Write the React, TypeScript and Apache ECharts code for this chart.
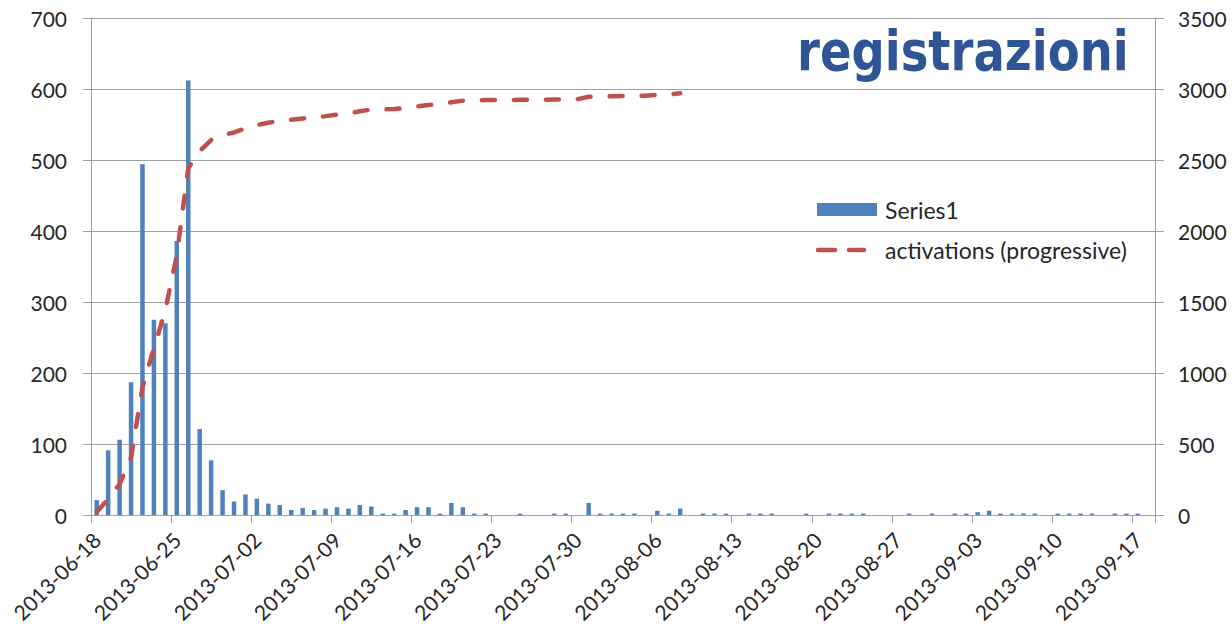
import React, { useEffect, useRef } from "react";
import * as echarts from "echarts";

// ---- data ----
const firstDay = "2013-06-18";
const dayCount = 93; // 2013-06-18 .. 2013-09-18

function buildDates(start: string, n: number): string[] {
  const out: string[] = [];
  const d0 = new Date(start + "T00:00:00Z");
  for (let i = 0; i < n; i++) {
    const d = new Date(d0.getTime() + i * 86400000);
    out.push(d.toISOString().slice(0, 10));
  }
  return out;
}
const dates = buildDates(firstDay, dayCount);

const series1 = [
  21, 91, 106, 187, 494, 275, 270, 386, 612, 121,
  77, 35, 19, 29, 23, 16, 14, 7, 10, 7,
  9, 11, 9, 14, 12, 2, 2, 7, 11, 11,
  2, 17, 11, 2, 2, 0, 0, 2, 0, 0,
  2, 2, 0, 17, 2, 2, 2, 2, 0, 6,
  2, 9, 0, 2, 2, 2, 0, 2, 2, 2,
  0, 0, 2, 0, 2, 2, 2, 2, 0, 0,
  0, 2, 0, 2, 0, 2, 2, 4, 6, 2,
  2, 2, 2, 0, 2, 2, 2, 2, 0, 2,
  2, 2, 0,
];

const activations = [
  21, 112, 218, 405, 899, 1174, 1444, 1830, 2442, 2563,
  2640, 2675, 2694, 2723, 2746, 2762, 2776, 2783, 2793, 2800,
  2809, 2820, 2829, 2843, 2855, 2857, 2859, 2866, 2877, 2888,
  2890, 2907, 2918, 2920, 2922, 2922, 2922, 2924, 2924, 2924,
  2926, 2928, 2928, 2945, 2947, 2949, 2951, 2953, 2953, 2959,
  2961, 2970,
];

const leftAxis = { min: 0, max: 700, interval: 100 };
const rightAxis = { min: 0, max: 3500, interval: 500 };
const seriesNames = ["Series1", "activations (progressive)"];
const titleText = "registrazioni";

const FONT = "Lato";
const TXT = "#262626";
const GRID = "#a0a0a0";
const BAR = "#4F81BD";
const LINE = "#C0504D";

export default function App() {
  const ref = useRef<HTMLDivElement>(null);
  useEffect(() => {
    if (!ref.current) return;
    const chart = echarts.init(ref.current, null, { renderer: "svg" });
    chart.setOption({
      animation: false,
      backgroundColor: "#ffffff",
      textStyle: { fontFamily: FONT },
      grid: { left: 91, right: 77, top: 18, bottom: 114, containLabel: false, outerBoundsMode: "none" },
      legend: { show: false, data: seriesNames },
      graphic: [
        {
          type: "text",
          x: 797,
          y: 50,
          scaleX: 0.83,
          style: {
            text: titleText,
            font: 'bold 56px "DejaVu Sans"',
            fill: "#2F5597",
            verticalAlign: "middle",
            align: "left",
          },
        },
        // legend: Series1
        { type: "rect", shape: { x: 817, y: 203, width: 60, height: 13 }, style: { fill: BAR } },
        {
          type: "text",
          x: 885,
          y: 210,
          style: { text: seriesNames[0], font: `23px ${FONT}`, fill: TXT, verticalAlign: "middle", align: "left" },
        },
        // legend: activations
        {
          type: "line",
          shape: { x1: 818, y1: 250, x2: 835, y2: 250 },
          style: { stroke: LINE, lineWidth: 4.5, lineCap: "round" },
        },
        {
          type: "line",
          shape: { x1: 849, y1: 250, x2: 864, y2: 250 },
          style: { stroke: LINE, lineWidth: 4.5, lineCap: "round" },
        },
        {
          type: "text",
          x: 885,
          y: 250,
          style: { text: seriesNames[1], font: `23px ${FONT}`, fill: TXT, verticalAlign: "middle", align: "left" },
        },
      ],
      xAxis: {
        type: "category",
        data: dates,
        boundaryGap: true,
        axisLine: { show: true, lineStyle: { color: GRID, width: 1 } },
        axisTick: { show: true, interval: 6, alignWithLabel: false, length: 8, lineStyle: { color: GRID } },
        axisLabel: {
          interval: 6,
          rotate: 45,
          margin: 21,
          fontFamily: FONT,
          fontSize: 21,
          color: TXT,
        },
        splitLine: { show: false },
      },
      yAxis: [
        {
          type: "value",
          min: leftAxis.min,
          max: leftAxis.max,
          interval: leftAxis.interval,
          position: "left",
          axisLine: { show: true, lineStyle: { color: GRID } },
          axisTick: { show: true, inside: false, length: 8, lineStyle: { color: GRID } },
          axisLabel: { margin: 24, fontFamily: FONT, fontSize: 21, color: TXT, formatter: (v: number) => String(v) },
          splitLine: { show: true, lineStyle: { color: GRID, width: 1 } },
        },
        {
          type: "value",
          min: rightAxis.min,
          max: rightAxis.max,
          interval: rightAxis.interval,
          position: "right",
          axisLine: { show: true, lineStyle: { color: GRID } },
          axisTick: { show: true, inside: false, length: 9, lineStyle: { color: GRID } },
          axisLabel: { margin: 23, fontFamily: FONT, fontSize: 21, color: TXT, formatter: (v: number) => String(v) },
          splitLine: { show: false },
        },
      ],
      series: [
        {
          name: seriesNames[0],
          type: "bar",
          yAxisIndex: 0,
          data: series1,
          barWidth: 4.5,
          itemStyle: { color: BAR },
        },
        {
          name: seriesNames[1],
          type: "line",
          yAxisIndex: 1,
          data: activations,
          symbol: "none",
          smooth: false,
          itemStyle: { color: LINE },
          lineStyle: { color: LINE, width: 4.5, type: [13, 19], cap: "round", join: "round" },
          z: 3,
        },
      ],
    });
    return () => chart.dispose();
  }, []);
  return (
    <div
      ref={ref}
      style={{ position: "fixed", left: 0, top: 0, width: 1232, height: 629, background: "#fff" }}
    />
  );
}
